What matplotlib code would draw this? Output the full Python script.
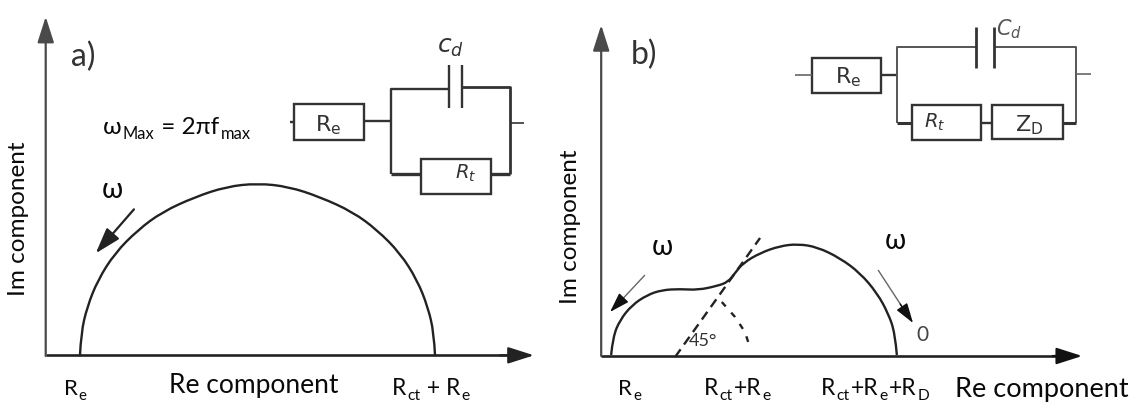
import matplotlib.pyplot as plt
from matplotlib.patches import Rectangle, PathPatch
from matplotlib.path import Path

plt.rcParams['font.family'] = ['Lato', 'DejaVu Sans']

W, H = 1130, 403
AXIS_COL = '#4a4a4a'
LINE_COL = '#222222'
BOX_COL = '#333333'
TEXT_COL = '#0a0a0a'

# Curves, in crop coordinates
curve_a_x = [224, 227, 244, 274, 322, 386, 454, 546, 634, 721, 808, 896, 988, 1056, 1120, 1168, 1198, 1215, 1218]
curve_a_y = [1065, 999, 921, 840, 759, 690, 636, 591, 560, 550, 560, 591, 636, 690, 759, 840, 921, 999, 1065]

curve_b_x = [139, 144, 163, 196, 237, 277, 326, 375, 427, 457, 476, 498, 544, 598, 647, 699, 761, 816, 862, 892, 911, 916]
curve_b_y = [1065, 1011, 960, 915, 885, 870, 867, 870, 858, 846, 819, 789, 759, 738, 732, 741, 774, 819, 879, 939, 999, 1065]

# Construction lines of panel b
tangent_x = [313, 544]
tangent_y = [1071, 714]
arc_x = [440, 476, 503, 517]
arc_y = [906, 951, 996, 1044]


def panel(left, width, xmax):
    ax = fig.add_axes([left / W, 0, width / W, 1])
    ax.set_xlim(0, xmax)
    ax.set_ylim(1209, 0)
    ax.axis('off')
    return ax


def arrow(ax, start, end, lw=1.5, col=AXIS_COL, scale=22):
    ax.annotate('', xy=end, xytext=start,
                arrowprops=dict(arrowstyle='-|>,head_length=0.72,head_width=0.23', color=col, lw=lw,
                                mutation_scale=scale, shrinkA=0, shrinkB=0))


def smooth(ax, xs, ys, lw=1.7):
    # the read points act as control points of quadratic segments
    pts = list(zip(xs, ys))
    verts = [pts[0]]
    codes = [Path.MOVETO]
    for i in range(1, len(pts) - 2):
        mid = ((pts[i][0] + pts[i + 1][0]) / 2, (pts[i][1] + pts[i + 1][1]) / 2)
        verts += [pts[i], mid]
        codes += [Path.CURVE3, Path.CURVE3]
    verts += [pts[-2], pts[-1]]
    codes += [Path.CURVE3, Path.CURVE3]
    ax.add_patch(PathPatch(Path(verts, codes), fill=False, ec=LINE_COL, lw=lw))


def runs(ax, x, y, parts, size=16):
    # text with subscripts, drawn piece by piece along one baseline
    rend = fig.canvas.get_renderer()
    inv = ax.transData.inverted()
    for txt, sub in parts:
        t = ax.text(x, y + 14 if sub else y, txt, fontsize=size * 0.68 if sub else size,
                    va='baseline', ha='left', color=TEXT_COL)
        b = t.get_window_extent(rend)
        x += inv.transform((b.x1, b.y0))[0] - inv.transform((b.x0, b.y0))[0] + 3


def box(ax, x0, y0, x1, y1, lw=1.7):
    ax.add_patch(Rectangle((x0, y0), x1 - x0, y1 - y0, fill=False, ec=BOX_COL, lw=lw))


def wire(ax, xs, ys, lw=1.7, col=BOX_COL):
    ax.plot(xs, ys, color=col, lw=lw, solid_capstyle='butt')


fig = plt.figure(figsize=(W / 100, H / 100), dpi=100, facecolor='white')

# Panel a
ax = panel(0, 560, 1568)
arrow(ax, (128, 1068), (128, 50), lw=1.6)
wire(ax, [128, 1450], [1066, 1066], lw=1.9, col='#222222')
arrow(ax, (1400, 1066), (1495, 1066), lw=1.6, col='#222222')
smooth(ax, curve_a_x, curve_a_y)
arrow(ax, (375, 628), (268, 760), lw=1.6, col='#222222')
ax.text(198, 172, 'a)', fontsize=23, va='center', color='#333333')
ax.text(52, 655, 'Im component', fontsize=17.5, rotation=90, ha='center', va='center', color=TEXT_COL)
ax.text(710, 1155, 'Re component', fontsize=19, ha='center', va='center', color=TEXT_COL)
ax.text(315, 570, 'ω', fontsize=20, ha='center', va='center', color=TEXT_COL)
runs(ax, 288, 402, [('ω', 0), ('Max', 1), (' = 2πf', 0), ('max', 1)], size=17.5)
runs(ax, 178, 1185, [('R', 0), ('e', 1)], size=16)
runs(ax, 1097, 1185, [('R', 0), ('ct', 1), (' + R', 0), ('e', 1)], size=16.5)

box(ax, 822, 312, 1020, 420)
box(ax, 1178, 478, 1375, 583)
wire(ax, [812, 822], [365, 365])
wire(ax, [1020, 1095], [362, 362])
wire(ax, [1095, 1095, 1258], [523, 268, 268])
wire(ax, [1293, 1428, 1428], [262, 262, 523], lw=2)
wire(ax, [1258, 1258], [195, 325])
wire(ax, [1293, 1293], [195, 325])
wire(ax, [1095, 1178], [523, 523], lw=2.4)
wire(ax, [1375, 1428], [523, 523], lw=2.4)
wire(ax, [1428, 1468], [370, 370], lw=1.2)
ax.text(1262, 142, r'$c_d$', fontsize=18, ha='center', va='center', color='#333333')
ax.text(918, 375, r'$\mathrm{R_e}$', fontsize=16, ha='center', va='center', color='#333333')
ax.text(1305, 520, r'$R_t$', fontsize=14, ha='center', va='center', color='#333333')

# Panel b
ax = panel(560, 570, 1550)
arrow(ax, (112, 1068), (112, 75), lw=1.6)
wire(ax, [112, 1380], [1068, 1068], lw=1.9, col='#222222')
arrow(ax, (1340, 1068), (1420, 1068), lw=1.6, col='#111111')
smooth(ax, curve_b_x, curve_b_y)
ax.plot(tangent_x, tangent_y, color=LINE_COL, lw=1.7, ls=(0, (4, 2.5)))
ax.plot(arc_x, arc_y, color=LINE_COL, lw=1.7, ls=(0, (2.5, 3.5)))
# thin grey shafts with black heads
wire(ax, [231, 165], [825, 903], lw=1.0, col='#666666')
arrow(ax, (170, 897), (136, 936), lw=1.0, col='#111111', scale=17)
wire(ax, [865, 930], [810, 920], lw=1.0, col='#666666')
arrow(ax, (925, 912), (960, 969), lw=1.0, col='#111111', scale=17)
ax.text(192, 165, 'b)', fontsize=23, va='center', color='#333333')
ax.text(28, 680, 'Im component', fontsize=17.5, rotation=90, ha='center', va='center', color=TEXT_COL)
ax.text(1310, 1170, 'Re component', fontsize=19.5, ha='center', va='center', color=TEXT_COL)
ax.text(277, 740, 'ω', fontsize=20, ha='center', va='center', color=TEXT_COL)
ax.text(912, 722, 'ω', fontsize=20, ha='center', va='center', color=TEXT_COL)
ax.text(985, 1005, '0', fontsize=15, ha='center', va='center', color='#444444')
ax.text(388, 1022, '45°', fontsize=13, ha='center', va='center', color='#333333')
runs(ax, 158, 1185, [('R', 0), ('e', 1)], size=16)
runs(ax, 392, 1185, [('R', 0), ('ct', 1), ('+R', 0), ('e', 1)], size=16.5)
runs(ax, 710, 1185, [('R', 0), ('ct', 1), ('+R', 0), ('e', 1), ('+R', 0), ('D', 1)], size=16.5)

box(ax, 685, 175, 873, 278)
box(ax, 957, 316, 1146, 420)
box(ax, 1175, 316, 1367, 418)
wire(ax, [640, 685], [226, 226], lw=1.2, col='#666666')
wire(ax, [873, 917], [226, 226])
wire(ax, [917, 917, 1132], [370, 140, 140], lw=1.4, col='#555555')
wire(ax, [1180, 1402, 1402], [140, 140, 370], lw=1.4, col='#555555')
wire(ax, [1132, 1132], [82, 205], lw=2)
wire(ax, [1180, 1180], [82, 205], lw=2)
wire(ax, [917, 957], [370, 370], lw=2.2)
wire(ax, [1146, 1175], [370, 370])
wire(ax, [1367, 1402], [370, 370], lw=2.2)
wire(ax, [1402, 1445], [222, 222], lw=1.2, col='#666666')
ax.text(1220, 88, r'$C_d$', fontsize=15, ha='center', va='center', color='#555555')
ax.text(785, 232, r'$\mathrm{R_e}$', fontsize=16, ha='center', va='center', color='#333333')
ax.text(1018, 368, r'$R_t$', fontsize=14, ha='center', va='center', color='#333333')
ax.text(1275, 375, r'$\mathrm{Z_D}$', fontsize=16, ha='center', va='center', color='#333333')

fig.savefig('out.png', dpi=100)
